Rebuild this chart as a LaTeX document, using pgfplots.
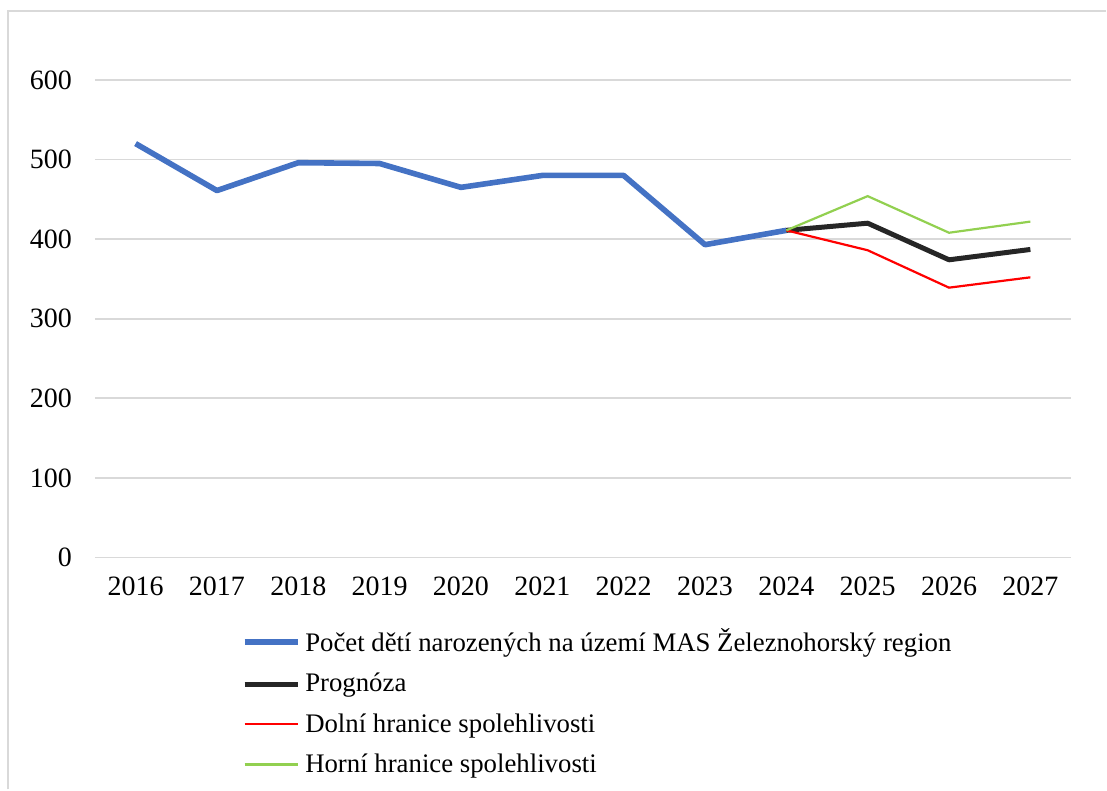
\documentclass[border=0pt]{standalone}
\usepackage{fontspec}
\setmainfont{Liberation Serif}
\usepackage{pgfplots}
\pgfplotsset{compat=1.18}
\definecolor{cblue}{HTML}{4472C4}
\definecolor{cblack}{HTML}{262626}
\definecolor{cred}{HTML}{FF0000}
\definecolor{cgreen}{HTML}{92D050}
\definecolor{cgrid}{HTML}{D9D9D9}
\begin{document}
\begin{tikzpicture}
\path (0,0) rectangle (553.5pt,395pt);
\draw[cgrid, line width=1pt] (4pt,0pt) -- (4pt,389.5pt) -- (553.5pt,389.5pt);
\begin{axis}[
  at={(47.5pt,116pt)}, anchor=south west,
  scale only axis, width=488.5pt, height=239pt,
  xmin=-0.5, xmax=11.5, ymin=0, ymax=600,
  xtick={0,...,11},
  xticklabels={2016,2017,2018,2019,2020,2021,2022,2023,2024,2025,2026,2027},
  ytick={0,100,...,600},
  ymajorgrids, grid style={cgrid, line width=0.9pt},
  axis line style={draw=none},
  axis x line*=bottom,
  x axis line style={cgrid, line width=0.9pt},
  major tick length=0pt,
  tick label style={font=\fontsize{14}{16}\selectfont},
  /pgf/number format/assume math mode=true,
  yticklabel style={xshift=-8pt},
  xticklabel style={yshift=-6pt},
  legend cell align=left,
  legend style={at={(0.150,-0.14)}, anchor=north west, draw=none,
    font=\fontsize{13.4}{16}\selectfont, row sep=5.3pt,
    inner xsep=0pt, inner ysep=0pt},
  legend image code/.code={\draw[#1] (0pt,0pt) -- (27pt,0pt);},
]
\addplot[cblue, line width=2.8pt, line join=round] coordinates {
(0,520) (1,461) (2,496) (3,495) (4,465) (5,480) (6,480) (7,393) (8,411)};
\addlegendentry{Počet dětí narozených na území MAS Železnohorský region}
\addplot[cblack, line width=2.5pt, line join=round] coordinates {
(8,411) (9,420) (10,374) (11,387)};
\addlegendentry{Prognóza}
\addplot[cred, line width=1.1pt] coordinates {
(8,411) (9,386) (10,339) (11,352)};
\addlegendentry{Dolní hranice spolehlivosti}
\addplot[cgreen, line width=1.1pt] coordinates {
(8,411) (9,454) (10,408) (11,422)};
\addlegendentry{Horní hranice spolehlivosti}
\end{axis}
\end{tikzpicture}
\end{document}
